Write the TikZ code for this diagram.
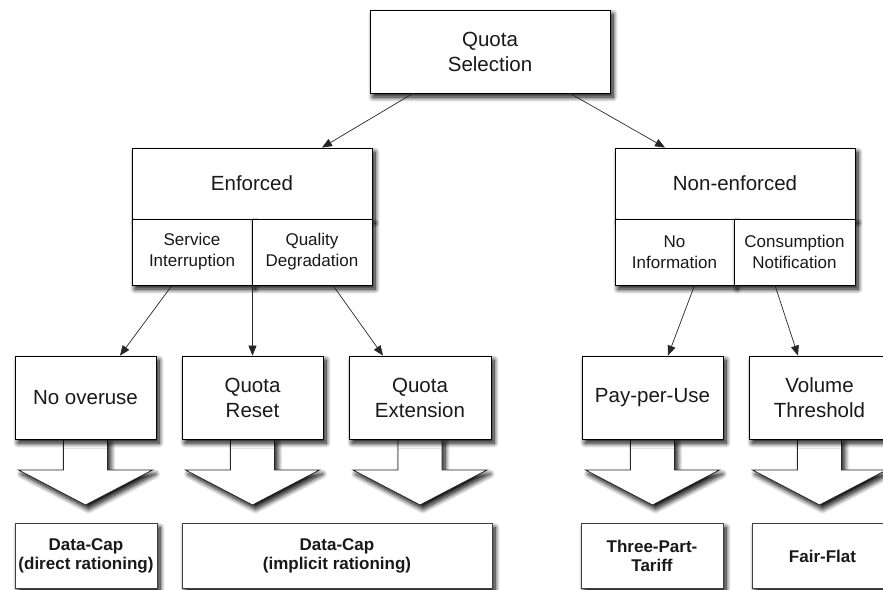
\documentclass[tikz,border=0pt]{standalone}
\usepackage{fontspec}
\setmainfont{Liberation Sans}
\usetikzlibrary{arrows.meta,shadows.blur,calc}

\tikzset{
  shade box/.style={blur shadow={shadow xshift=3pt,shadow yshift=-4pt,shadow blur radius=5pt,shadow blur steps=10,shadow opacity=100}},
  box/.style={draw=black,line width=0.8pt,fill=white,shade box,inner sep=0pt,align=center,
    text=black!90,font=\fontsize{20.5}{25}\selectfont},
  subbox/.style={box,font=\fontsize{17}{21}\selectfont},
  leafbox/.style={box,minimum width=141pt,minimum height=83pt},
  resultbox/.style={box,draw=black!75,minimum height=65pt,font=\bfseries\fontsize{17}{18.5}\selectfont},
  link/.style={draw=black!85,line width=0.7pt,-{Triangle[length=10pt,width=8pt]}},
  blockarrow/.style={draw=black!85,line width=0.8pt,fill=white,shade box}
}

% a wide block arrow hanging below a leaf box
\newcommand\blockarrowbelow[1]{%
  \path[blockarrow] ([xshift=-22pt]#1.south) -- ++(44pt,0pt) -- ++(0pt,-31pt)
    -- ++(45pt,0pt) -- ++(-67pt,-35pt) -- ++(-67pt,35pt) -- ++(45pt,0pt) -- cycle;}

\begin{document}
\begin{tikzpicture}[x=1pt,y=-1pt]
\useasboundingbox (0,0) rectangle (883,589);
\begin{scope}
\clip (0,0) rectangle (883,589);

% root
\node[box,minimum width=240pt,minimum height=83pt] (root) at (490,51.5) {Quota\\Selection};

% enforced branch
\node[box,minimum width=240pt,minimum height=71pt] (enf) at (252,183.5) {Enforced};
\node[subbox,minimum width=120pt,minimum height=66pt] (enfSI) at (192,252) {Service\\Interruption};
\node[subbox,minimum width=120pt,minimum height=66pt] (enfQD) at (312,252) {Quality\\Degradation};

% non-enforced branch
\node[box,minimum width=240pt,minimum height=71pt] (nenf) at (735,183.5) {Non-enforced};
\node[subbox,minimum width=119pt,minimum height=66pt] (nenfNI) at (674.5,252) {No\\Information};
\node[subbox,minimum width=121pt,minimum height=66pt] (nenfCN) at (794.5,252) {Consumption\\Notification};

% block arrows first, so the leaf boxes sit on top of them
\coordinate (c1) at (85.5,439);
\coordinate (c2) at (252.5,439);
\coordinate (c3) at (420,439);
\coordinate (c4) at (652.5,439);
\coordinate (c5) at (819.5,439);
\foreach \c in {c1,c2,c3,c4,c5} {\blockarrowbelow{\c}}

% leaf boxes
\node[leafbox] (noover) at (85.5,397.5) {No overuse};
\node[leafbox] (reset) at (252.5,397.5) {Quota\\Reset};
\node[leafbox,minimum width=142pt] (ext) at (420,397.5) {Quota\\Extension};
\node[leafbox] (ppu) at (652.5,397.5) {Pay-per-Use};
\node[leafbox] (vol) at (819.5,397.5) {Volume\\Threshold};

% tariff models
\node[resultbox,minimum width=142pt] (dcd) at (86,556) {Data-Cap\\(direct rationing)};
\node[resultbox,minimum width=310pt] (dci) at (337,556) {Data-Cap\\(implicit rationing)};
\node[resultbox,minimum width=142pt] (tpt) at (652,556) {Three-Part-\\Tariff};
\node[resultbox,minimum width=141pt] (ff) at (822.5,556) {Fair-Flat};

% connectors
\draw[link] ([xshift=-77pt]root.south) -- ([xshift=70pt]enf.north);
\draw[link] ([xshift=80pt]root.south) -- ([xshift=-70pt]nenf.north);
\draw[link] ([xshift=-20pt]enfSI.south) -- ([xshift=34.5pt]noover.north);
\draw[link] (enfSI.south east) -- (reset.north);
\draw[link] ([xshift=21pt]enfQD.south) -- ([xshift=-37pt]ext.north);
\draw[link] ([xshift=20pt]nenfNI.south) -- ([xshift=15.5pt]ppu.north);
\draw[link] ([xshift=-19.5pt]nenfCN.south) -- ([xshift=-21.5pt]vol.north);
\end{scope}
\end{tikzpicture}
\end{document}
